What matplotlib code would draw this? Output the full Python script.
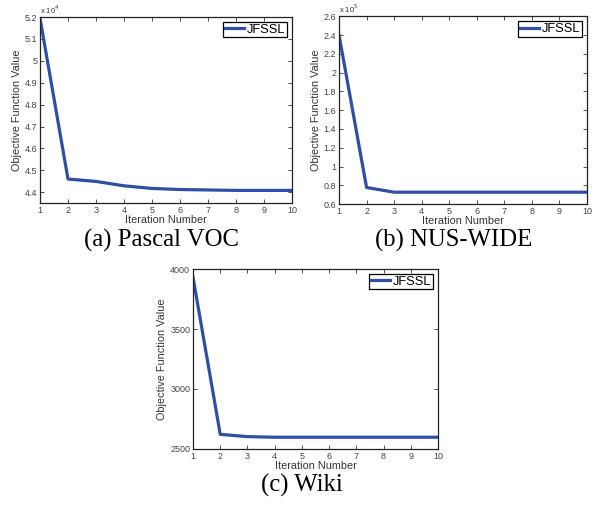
import matplotlib
matplotlib.use('Agg')
import matplotlib.pyplot as plt
from matplotlib.ticker import FuncFormatter

plt.rcParams['font.family'] = ['Liberation Sans', 'DejaVu Sans']

iterations = [1, 2, 3, 4, 5, 6, 7, 8, 9, 10]

# objective value per iteration on each dataset
pascal_obj = [51950, 44600, 44490, 44290, 44170, 44120, 44100, 44080, 44080, 44080]
nus_obj = [240000, 77700, 72700, 72700, 72700, 72700, 72700, 72700, 72700, 72700]
wiki_obj = [3930, 2622, 2603, 2598, 2598, 2598, 2598, 2598, 2598, 2598]

pascal_yticks = [44000, 45000, 46000, 47000, 48000, 49000, 50000, 51000, 52000]
nus_yticks = [60000, 80000, 100000, 120000, 140000, 160000, 180000, 200000, 220000, 240000, 260000]
wiki_yticks = [2500, 3000, 3500, 4000]

line_color = '#2f4fa6'


def PlotCurve(ax, values, yticks, ylim, exponent):
    ax.plot(iterations, values, color=line_color, linewidth=2.3, label='JFSSL')
    ax.set_xlim(1, 10)
    ax.set_ylim(ylim)
    ax.set_xticks(iterations)
    ax.set_yticks(yticks)
    if exponent:
        scale = 10 ** exponent
        ax.yaxis.set_major_formatter(FuncFormatter(lambda v, p: '%g' % round(v / scale, 2)))
        ax.text(0.0, 1.005, r'x 10$^{%d}$' % exponent, transform=ax.transAxes,
                fontsize=5.5, ha='left', va='bottom', color='#333333')
    ax.tick_params(direction='in', top=True, right=True, labelsize=6.5,
                   length=3, width=0.6, pad=2, colors='#333333', labelcolor='#444444')
    for s in ax.spines.values():
        s.set_linewidth(0.9)
        s.set_color('#222222')
    ax.set_xlabel('Iteration Number', fontsize=7.8, labelpad=0, color='#333333')
    ax.set_ylabel('Objective Function Value', fontsize=7.8, labelpad=2, color='#333333')
    leg = ax.legend(loc='upper right', fontsize=9.3, handlelength=1.5, handletextpad=0.2,
                    borderpad=0.12, borderaxespad=0.4, fancybox=False, framealpha=1)
    leg.get_frame().set_edgecolor('black')
    leg.get_frame().set_linewidth(0.9)
    return ax


fig = plt.figure(figsize=(6.07, 5.09), dpi=100)

ax1 = fig.add_axes([0.0659, 0.601, 0.415, 0.3654])
PlotCurve(ax1, pascal_obj, pascal_yticks, (43500, 52000), 4)

ax2 = fig.add_axes([0.5585, 0.599, 0.4086, 0.369])
PlotCurve(ax2, nus_obj, nus_yticks, (60000, 260000), 5)

ax3 = fig.add_axes([0.318, 0.1179, 0.4036, 0.3536])
PlotCurve(ax3, wiki_obj, wiki_yticks, (2500, 4000), 0)

cap = dict(fontsize=17.8, family='Liberation Serif', ha='center', va='center')
fig.text(161 / 607, 1 - 240 / 509, '(a) Pascal VOC', **cap)
fig.text(454 / 607, 1 - 240 / 509, '(b) NUS-WIDE', **cap)
fig.text(302 / 607, 1 - 485 / 509, '(c) Wiki', **cap)

fig.savefig('out.png', dpi=100)
